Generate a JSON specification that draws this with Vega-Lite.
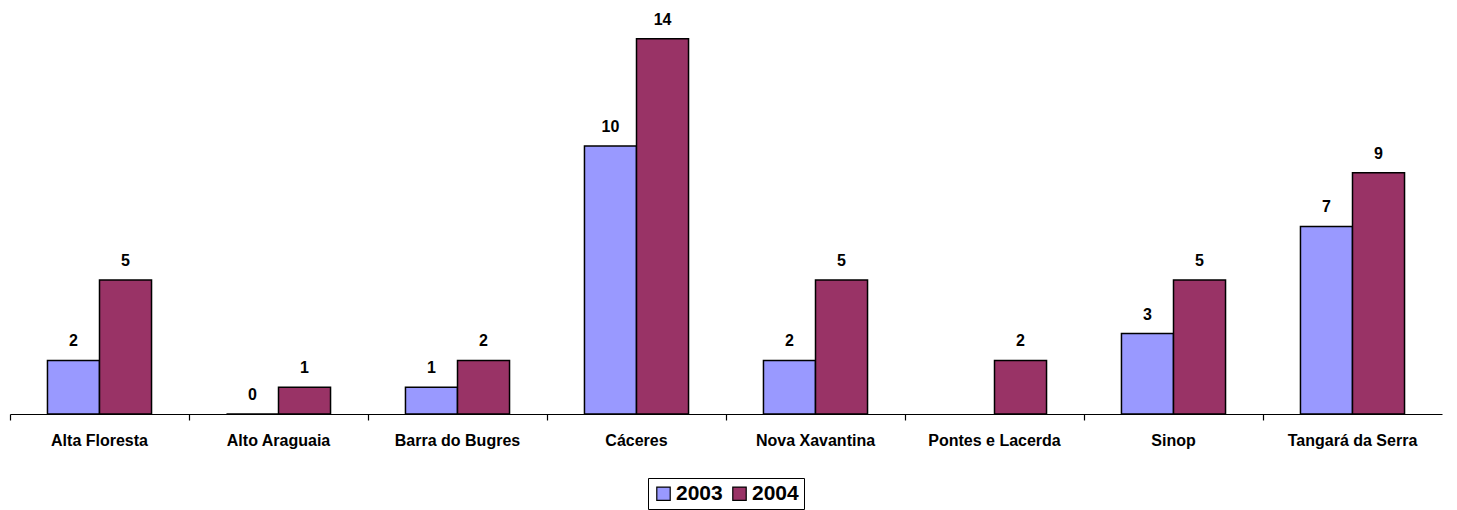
{
  "$schema": "https://vega.github.io/schema/vega-lite/v6.json",
  "width": 1432,
  "height": 402,
  "autosize": {"type": "none"},
  "padding": {"left": 10, "top": 12, "right": 15, "bottom": 96},
  "background": "white",
  "config": {"view": {"stroke": null}, "font": "Liberation Sans"},
  "data": {
    "values": [
      {"city": "Alta Floresta", "year": "2003", "value": 2},
      {"city": "Alta Floresta", "year": "2004", "value": 5},
      {"city": "Alto Araguaia", "year": "2003", "value": 0},
      {"city": "Alto Araguaia", "year": "2004", "value": 1},
      {"city": "Barra do Bugres", "year": "2003", "value": 1},
      {"city": "Barra do Bugres", "year": "2004", "value": 2},
      {"city": "Cáceres", "year": "2003", "value": 10},
      {"city": "Cáceres", "year": "2004", "value": 14},
      {"city": "Nova Xavantina", "year": "2003", "value": 2},
      {"city": "Nova Xavantina", "year": "2004", "value": 5},
      {"city": "Pontes e Lacerda", "year": "2004", "value": 2},
      {"city": "Sinop", "year": "2003", "value": 3},
      {"city": "Sinop", "year": "2004", "value": 5},
      {"city": "Tangará da Serra", "year": "2003", "value": 7},
      {"city": "Tangará da Serra", "year": "2004", "value": 9}
    ]
  },
  "encoding": {
    "x": {
      "field": "city", "type": "nominal", "sort": null,
      "scale": {"paddingInner": 0, "paddingOuter": 0},
      "axis": {
        "title": null, "labelAngle": 0, "bandPosition": 0,
        "domainColor": "black", "domainWidth": 1.2,
        "tickColor": "black", "tickSize": 6, "tickWidth": 1.2,
        "labelPadding": 12, "labelFontSize": 16, "labelFontWeight": "bold",
        "labelColor": "black", "labelFont": "Liberation Sans",
        "labelBound": false, "labelOverlap": false
      }
    },
    "xOffset": {
      "field": "year", "type": "nominal",
      "scale": {"paddingInner": 0, "paddingOuter": 0.72}
    },
    "y": {
      "field": "value", "type": "quantitative",
      "scale": {"domain": [0, 15], "nice": false},
      "axis": null
    }
  },
  "layer": [
    {
      "mark": {"type": "bar", "stroke": "black", "strokeWidth": 1.5},
      "encoding": {
        "color": {
          "field": "year", "type": "nominal",
          "scale": {"domain": ["2003", "2004"], "range": ["#9999FF", "#993366"]},
          "legend": {
            "title": null, "orient": "none", "direction": "horizontal",
            "legendX": 638, "legendY": 466,
            "symbolType": "square", "symbolSize": 180,
            "symbolStrokeColor": "black", "symbolStrokeWidth": 1.2,
            "labelFontSize": 21, "labelFontWeight": "bold", "labelColor": "black",
            "labelFont": "Liberation Sans",
            "strokeColor": "black", "padding": 5, "columnPadding": 6,
            "labelOffset": 2
          }
        }
      }
    },
    {
      "mark": {"type": "text", "baseline": "bottom", "dy": -11, "fontSize": 16, "fontWeight": "bold", "color": "black", "font": "Liberation Sans"},
      "encoding": {"text": {"field": "value", "type": "quantitative"}}
    }
  ]
}
